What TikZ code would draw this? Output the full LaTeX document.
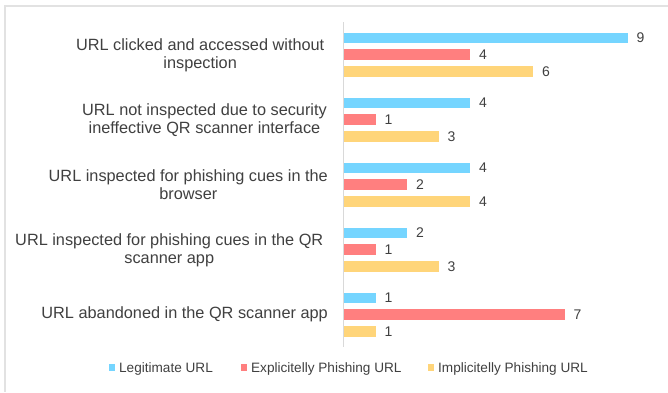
\documentclass[tikz,border=0pt]{standalone}
\usepackage{fontspec}
\setmainfont{Liberation Sans}
\usetikzlibrary{positioning}

\definecolor{legit}{HTML}{75D5FF}
\definecolor{explicit}{HTML}{FF7F7F}
\definecolor{implicit}{HTML}{FFD57A}
\definecolor{txtgray}{HTML}{404040}
\definecolor{linegray}{HTML}{D9D9D9}
\definecolor{framegray}{HTML}{E2E2E2}

\begin{document}
\begin{tikzpicture}[x=1pt,y=-1pt,
    bar/.style={anchor=west,inner sep=0pt,minimum height=10.8pt},
    val/.style={inner sep=0pt,text=txtgray,font=\fontsize{14}{16}\selectfont,
      text height=10pt,text depth=0pt},
    cat/.style={anchor=east,align=center,inner sep=0pt,text=txtgray,
      font=\fontsize{16.3}{18.3}\selectfont},
    keybox/.style={inner sep=0pt,minimum size=6.5pt},
    key/.style={inner sep=0pt,text=txtgray,font=\fontsize{13.6}{16}\selectfont,
      text height=9.7pt,text depth=0pt}]
  \useasboundingbox (0,0) rectangle (668,392);
  \fill[white] (0,0) rectangle (668,392);
  \draw[framegray,line width=1.5pt] (5,392) -- (5,6) -- (668,6);

  % category axis
  \draw[linegray,line width=1pt] (343.5,22) -- (343.5,347);

  % categories
  \node[cat] (c1) at (324.5,55) {URL clicked and accessed without\\inspection};
  \node[cat] (c2) at (327,120) {URL not inspected due to security\\ineffective QR scanner interface};
  \node[cat] (c3) at (328,185) {URL inspected for phishing cues in the\\browser};
  \node[cat] (c4) at (323.5,250) {URL inspected for phishing cues in the QR\\scanner app};
  \node[cat] (c5) at (328,314.7) {URL abandoned in the QR scanner app};

  % bars, 31.5pt per count
  \node[bar,fill=legit,minimum width=283.5pt] (b1a) at (344,37.9) {};
  \node[bar,fill=explicit,minimum width=126pt] (b1b) at (344,54.7) {};
  \node[bar,fill=implicit,minimum width=189pt] (b1c) at (344,71.5) {};
  \node[bar,fill=legit,minimum width=126pt] (b2a) at (344,102.9) {};
  \node[bar,fill=explicit,minimum width=31.5pt] (b2b) at (344,119.7) {};
  \node[bar,fill=implicit,minimum width=94.5pt] (b2c) at (344,136.5) {};
  \node[bar,fill=legit,minimum width=126pt] (b3a) at (344,167.9) {};
  \node[bar,fill=explicit,minimum width=63pt] (b3b) at (344,184.7) {};
  \node[bar,fill=implicit,minimum width=126pt] (b3c) at (344,201.5) {};
  \node[bar,fill=legit,minimum width=63pt] (b4a) at (344,232.9) {};
  \node[bar,fill=explicit,minimum width=31.5pt] (b4b) at (344,249.7) {};
  \node[bar,fill=implicit,minimum width=94.5pt] (b4c) at (344,266.5) {};
  \node[bar,fill=legit,minimum width=31.5pt] (b5a) at (344,297.9) {};
  \node[bar,fill=explicit,minimum width=220.5pt] (b5b) at (344,314.7) {};
  \node[bar,fill=implicit,minimum width=31.5pt] (b5c) at (344,331.5) {};

  % values
  \node[val,right=8.5pt of b1a] (v1a) {9};
  \node[val,right=8.5pt of b1b] (v1b) {4};
  \node[val,right=8.5pt of b1c] (v1c) {6};
  \node[val,right=8.5pt of b2a] (v2a) {4};
  \node[val,right=8.5pt of b2b] (v2b) {1};
  \node[val,right=8.5pt of b2c] (v2c) {3};
  \node[val,right=8.5pt of b3a] (v3a) {4};
  \node[val,right=8.5pt of b3b] (v3b) {2};
  \node[val,right=8.5pt of b3c] (v3c) {4};
  \node[val,right=8.5pt of b4a] (v4a) {2};
  \node[val,right=8.5pt of b4b] (v4b) {1};
  \node[val,right=8.5pt of b4c] (v4c) {3};
  \node[val,right=8.5pt of b5a] (v5a) {1};
  \node[val,right=8.5pt of b5b] (v5b) {7};
  \node[val,right=8.5pt of b5c] (v5c) {1};

  % legend
  \node[keybox,fill=legit] (k1) at (112,367.7) {};
  \node[key,right=3.5pt of k1] (l1) {Legitimate URL};
  \node[keybox,fill=explicit] (k2) at (244,367.7) {};
  \node[key,right=3.5pt of k2] (l2) {Explicitelly Phishing URL};
  \node[keybox,fill=implicit] (k3) at (431,367.7) {};
  \node[key,right=3.5pt of k3] (l3) {Implicitelly Phishing URL};
\end{tikzpicture}
\end{document}
